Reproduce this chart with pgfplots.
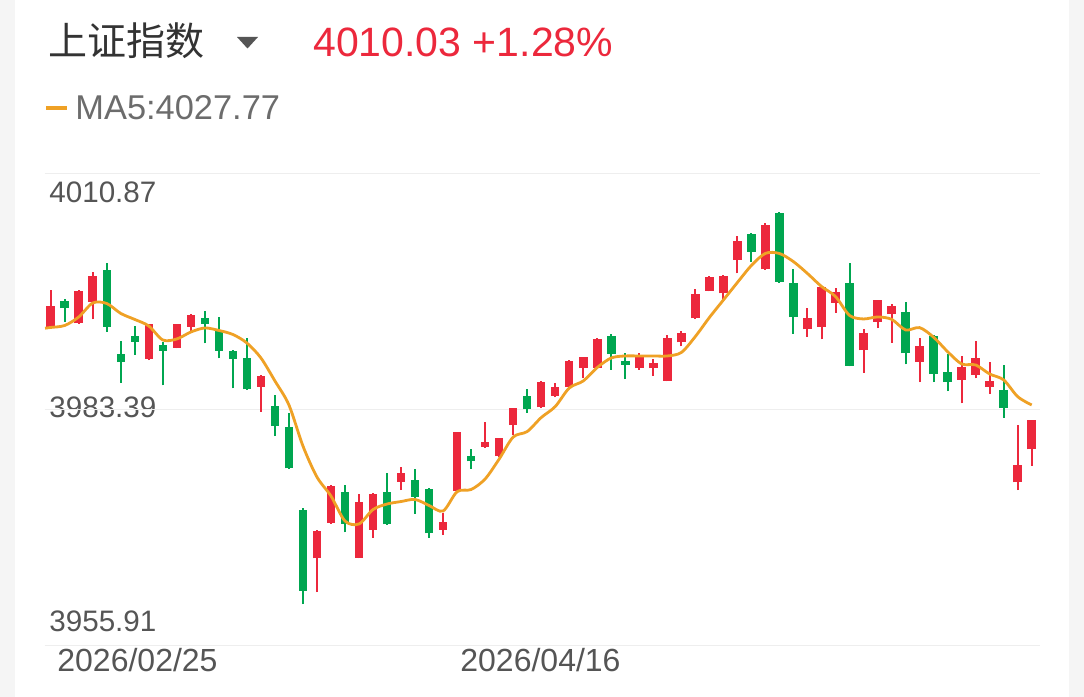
\documentclass[border=0pt]{standalone}
\usepackage{pgfplots}
\usepackage{pgfplotstable}
\pgfplotsset{compat=1.18}
\usepackage{fontspec}
\setmainfont{Liberation Sans}
\newfontfamily\cjk{Noto Sans CJK SC}

\definecolor{cred}{HTML}{EC283C}
\definecolor{cgreen}{HTML}{00A650}
\definecolor{corange}{HTML}{EFA125}
\definecolor{ctitle}{HTML}{333333}
\definecolor{clabel}{HTML}{555555}
\definecolor{cgrid}{HTML}{EEEEEE}
\definecolor{cside}{HTML}{F5F5F5}

% x o h l c  (up days)
\pgfplotstableread{
x o h l c
1 3993.01 3997.28 3992.92 3995.42
3 3993.41 3997.28 3993.33 3997.17
4 3995.92 3999.35 3993.87 3998.95
8 3989.22 3993.38 3989.13 3993.33
10 3990.57 3993.38 3990.47 3993.33
11 3993.01 3994.49 3992.24 3994.37
16 3986.03 3987.39 3983.11 3987.31
20 3966.04 3969.34 3962.09 3969.26
21 3970.19 3974.52 3970.09 3974.46
23 3966.11 3973.53 3966.02 3972.63
24 3969.34 3973.61 3968.44 3973.49
26 3974.96 3976.71 3973.99 3975.94
29 3969.34 3971.28 3968.76 3970.30
30 3973.88 3980.80 3973.82 3980.71
32 3979.03 3981.94 3978.94 3979.61
33 3977.95 3980.10 3977.83 3980.01
34 3981.56 3983.54 3980.40 3983.50
36 3983.62 3986.68 3983.54 3986.60
37 3984.97 3986.48 3984.79 3986.02
38 3986.02 3989.13 3985.95 3989.05
39 3988.17 3989.51 3987.00 3989.45
40 3988.17 3991.64 3988.09 3991.54
43 3988.17 3989.98 3987.97 3989.60
44 3988.17 3989.22 3987.27 3988.75
45 3986.72 3992.05 3986.65 3991.66
46 3991.17 3992.48 3990.73 3992.28
47 3993.99 3997.34 3993.91 3996.80
48 3997.20 3998.86 3997.11 3998.76
49 3996.90 3999.03 3996.00 3998.92
50 4000.77 4003.57 3999.23 4003.02
52 3999.69 4005.05 3999.61 4004.85
55 3992.71 3995.22 3991.85 3994.06
56 3993.01 3997.75 3991.54 3997.67
57 3995.81 3997.55 3994.64 3997.09
59 3990.25 3992.72 3987.62 3992.24
60 3993.56 3996.12 3992.83 3996.06
61 3994.46 3995.62 3991.15 3995.42
63 3988.87 3991.73 3986.54 3990.80
66 3986.81 3989.60 3984.09 3988.35
67 3987.39 3991.38 3987.00 3989.40
68 3986.03 3988.87 3985.18 3986.69
70 3974.89 3981.56 3973.99 3976.90
71 3978.73 3982.20 3976.79 3982.14
}\uptab

% down days
\pgfplotstableread{
x o h l c
2 3996.04 3996.18 3993.59 3995.15
5 3999.61 4000.46 3992.43 3993.01
6 3989.83 3991.35 3986.49 3988.87
7 3991.96 3993.13 3989.72 3991.23
9 3990.88 3991.26 3986.19 3990.22
12 3993.99 3994.84 3991.08 3993.33
13 3992.63 3994.18 3989.33 3990.22
14 3990.22 3990.30 3985.84 3989.22
15 3989.33 3991.66 3985.64 3985.72
17 3983.77 3985.06 3980.28 3981.48
18 3981.36 3982.92 3976.44 3976.52
19 3971.67 3971.84 3960.69 3962.27
22 3973.80 3974.58 3969.07 3970.04
25 3973.73 3976.01 3969.92 3970.00
27 3975.16 3976.41 3971.20 3973.21
28 3974.08 3974.23 3968.44 3968.95
31 3977.91 3978.80 3976.44 3977.34
35 3984.94 3985.75 3982.99 3983.39
41 3991.93 3992.13 3987.97 3989.83
42 3989.02 3989.91 3986.89 3988.55
51 4003.80 4003.88 4000.58 4001.74
53 4006.21 4006.33 3998.15 3998.25
54 3998.06 3999.73 3992.16 3994.11
58 3998.12 4000.43 3988.38 3988.44
62 3994.69 3995.92 3988.63 3989.91
64 3991.93 3992.05 3986.54 3987.50
65 3987.70 3989.80 3985.52 3986.54
69 3985.64 3988.55 3982.41 3983.57
}\downtab

\pgfplotstableread{
x ma
0.6 3992.83
1 3992.92
2 3993.15
3 3994.14
4 3995.77
5 3995.71
6 3994.55
7 3993.85
8 3993.09
9 3991.46
10 3991.58
11 3992.39
12 3992.86
13 3992.57
14 3992.10
15 3991.11
16 3989.37
17 3986.69
18 3983.89
19 3979.11
20 3975.50
21 3973.29
22 3970.38
23 3970.04
24 3971.72
25 3972.36
26 3972.65
27 3972.89
28 3972.19
29 3971.55
30 3973.80
31 3974.05
32 3975.28
33 3977.60
34 3980.16
35 3980.80
36 3982.43
37 3983.71
38 3985.87
39 3986.69
40 3988.26
41 3989.37
42 3989.60
43 3989.60
44 3989.60
45 3989.60
46 3990.01
47 3991.87
48 3994.08
49 3996.12
50 3998.16
51 4000.14
52 4001.55
53 4001.53
54 4000.58
55 3999.20
56 3997.69
57 3996.52
58 3994.32
59 3993.91
60 3994.14
61 3993.87
62 3992.63
63 3992.90
64 3991.78
65 3990.10
66 3988.67
67 3988.55
68 3987.50
69 3986.81
70 3984.86
71 3983.89
}\matab

\pgfplotsset{
  candle/.style 2 args={draw=none, mark=none, forget plot,
    error bars/.cd, y dir=plus, y explicit, error mark=none,
    error bar style={line width=#1, draw=#2, solid}},
}

\begin{document}
\begin{tikzpicture}
\path[use as bounding box, fill=white] (0,0) rectangle (542pt,348.5pt);

\begin{scope}[x=0.5pt, y=-0.5pt, shift={(0,348.5pt)}]
  \fill[cside] (0,0) rectangle (15,697);
  \fill[cside] (1069,0) rectangle (1084,697);
  \node[anchor=west, inner sep=0, text=ctitle, font=\cjk\fontsize{19.5}{21}\selectfont] at (48,41) {上证指数};
  \fill[clabel] (237,37) -- (258,37) -- (247.5,48.5) -- cycle;
  \node[anchor=west, inner sep=0, text=cred, font=\fontsize{20.5}{22}\selectfont] at (313,42) {4010.03 +1.28\%};
  \draw[corange, line width=2pt] (46,108) -- (67,108);
  \node[anchor=west, inner sep=0, text=gray!85!black, font=\fontsize{17.2}{19}\selectfont] at (75,108) {MA5:4027.77};
  \node[anchor=west, inner sep=0, text=clabel, font=\fontsize{14.8}{16}\selectfont] at (49,192) {4010.87};
  \node[anchor=west, inner sep=0, text=clabel, font=\fontsize{14.8}{16}\selectfont] at (49,407) {3983.39};
  \node[anchor=west, inner sep=0, text=clabel, font=\fontsize{14.8}{16}\selectfont] at (49,621) {3955.91};
  \node[anchor=west, inner sep=0, text=clabel, font=\fontsize{16}{18}\selectfont] at (57,660) {2026/02/25};
  \node[anchor=west, inner sep=0, text=clabel, font=\fontsize{16}{18}\selectfont] at (460,660) {2026/04/16};
\end{scope}

\begin{axis}[
  at={(22.5pt,25.85pt)}, anchor=south west,
  scale only axis, width=497.5pt, height=236pt,
  xmin=0.593, xmax=71.59,
  ymin=3955.91, ymax=4010.87,
  ytick={3955.91,3983.39,4010.87}, yticklabels={},
  xtick=\empty,
  ymajorgrids, major grid style={cgrid, line width=0.75pt},
  axis line style={draw=none}, major tick length=0pt,
  clip=false,
]
% wicks
\addplot[candle={1pt}{cred}]
  table[x=x, y=l, y error plus expr=\thisrow{h}-\thisrow{l}] {\uptab};
\addplot[candle={1pt}{cgreen}]
  table[x=x, y=l, y error plus expr=\thisrow{h}-\thisrow{l}] {\downtab};
% bodies
\addplot[candle={4.25pt}{cred}]
  table[x=x, y=o, y error plus expr=\thisrow{c}-\thisrow{o}] {\uptab};
\addplot[candle={4.25pt}{cgreen}]
  table[x=x, y=c, y error plus expr=\thisrow{o}-\thisrow{c}] {\downtab};
% MA5
\addplot[corange, line width=1.4pt, smooth, tension=0.5, mark=none]
  table[x=x, y=ma] {\matab};
\end{axis}
\end{tikzpicture}
\end{document}
